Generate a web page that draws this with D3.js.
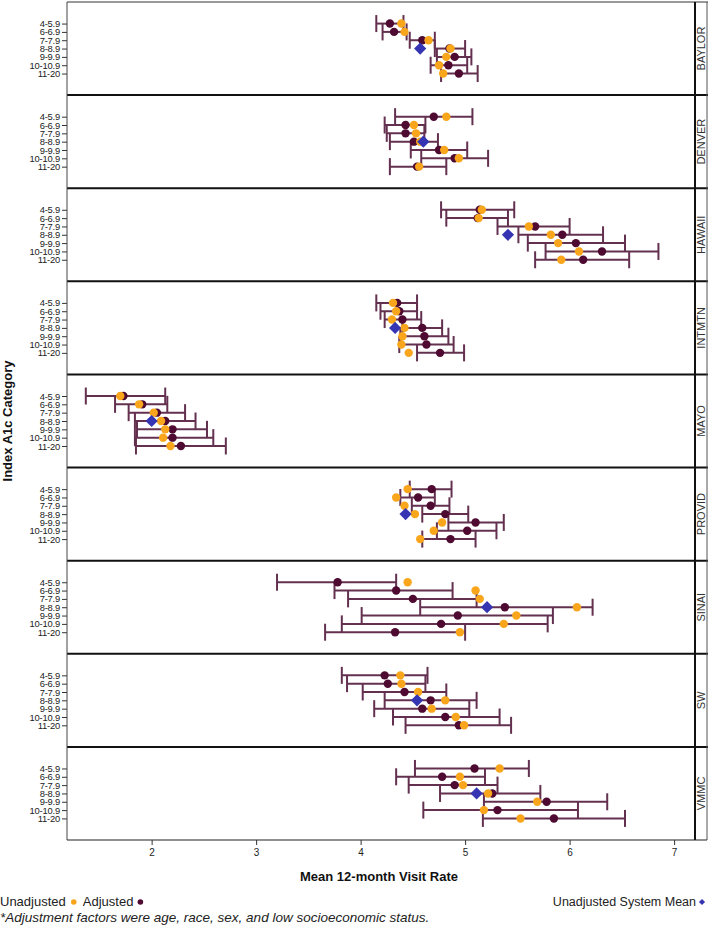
<!DOCTYPE html>
<html><head><meta charset="utf-8">
<script src="https://cdn.jsdelivr.net/npm/d3@7"></script>
<style>
body{margin:0;background:#fff;}
svg{display:block;font-family:"Liberation Sans",Arial,sans-serif;}
</style></head>
<body><svg id="chart" width="708" height="928"></svg>
<script>
const categories = ["4-5.9","6-6.9","7-7.9","8-8.9","9-9.9","10-10.9","11-20"];
const sites = ["BAYLOR","DENVER","HAWAII","INTMTN","MAYO","PROVID","SINAI","SW","VMMC"];
const xTicks = [2,3,4,5,6,7];
const unadjusted = [
 [4.39,4.42,4.65,4.86,4.82,4.75,4.79],
 [4.82,4.51,4.53,4.57,4.80,4.94,4.56],
 [5.16,5.13,5.61,5.82,5.89,6.09,5.92],
 [4.31,4.34,4.30,4.42,4.40,4.39,4.46],
 [1.70,1.88,2.02,2.09,2.13,2.11,2.18],
 [4.45,4.34,4.42,4.52,4.78,4.70,4.57],
 [4.45,5.10,5.14,6.07,5.49,5.37,4.95],
 [4.38,4.39,4.55,4.81,4.68,4.91,4.99],
 [5.33,4.95,4.98,5.22,5.69,5.18,5.53]
];
const adjusted = [
 [4.28,4.32,4.59,4.85,4.90,4.84,4.94],
 [4.70,4.43,4.43,4.51,4.75,4.90,4.54],
 [5.14,5.12,5.67,5.93,6.06,6.31,6.13],
 [4.35,4.37,4.40,4.59,4.61,4.63,4.76],
 [1.73,1.91,2.05,2.13,2.20,2.20,2.28],
 [4.68,4.55,4.67,4.81,5.10,5.02,4.86],
 [3.78,4.34,4.50,5.38,4.93,4.77,4.33],
 [4.23,4.26,4.42,4.67,4.59,4.81,4.94],
 [5.09,4.78,4.90,5.26,5.78,5.31,5.85]
];
const lowerCI = [
 [4.15,4.21,4.47,4.71,4.73,4.67,4.77],
 [4.33,4.23,4.25,4.28,4.48,4.58,4.28],
 [4.77,4.82,5.31,5.51,5.60,5.77,5.67],
 [4.15,4.19,4.23,4.40,4.38,4.37,4.54],
 [1.37,1.65,1.78,1.84,1.86,1.84,1.85],
 [4.47,4.38,4.49,4.59,4.84,4.73,4.59],
 [3.20,3.75,3.88,4.57,4.01,3.82,3.66],
 [3.82,3.87,4.02,4.23,4.13,4.31,4.43],
 [4.52,4.34,4.46,4.76,5.18,4.60,5.17]
];
const upperCI = [
 [4.41,4.44,4.71,5.00,5.06,5.02,5.12],
 [5.07,4.62,4.61,4.74,5.02,5.22,4.82],
 [5.47,5.41,6.00,6.32,6.53,6.85,6.57],
 [4.54,4.54,4.58,4.78,4.84,4.89,4.99],
 [2.13,2.15,2.32,2.42,2.53,2.59,2.71],
 [4.87,4.71,4.85,5.03,5.37,5.30,5.10],
 [4.34,4.88,5.11,6.22,5.84,5.79,5.00],
 [4.64,4.62,4.82,5.11,5.04,5.33,5.44],
 [5.61,5.19,5.31,5.72,6.36,6.08,6.53]
];
const systemMean = [4.57,4.60,5.41,4.33,2.00,4.43,5.21,4.54,5.11];
const systemMeanRow = "8-8.9";

const C_UNADJ = "#f9a61c", C_ADJ = "#4e0a31", C_BAR = "#63304f", C_MEAN = "#3535b3";
const svg = d3.select("#chart");
const L = 67, R = 695, SR = 707, T = 2, B = 840;
const panelH = (B - T) / sites.length;
const x = d3.scaleLinear().domain([1.19, 7.2]).range([L, R]);
const py = d3.scaleBand().domain(sites).range([T, B]);
const y = d3.scalePoint().domain(categories).range([0, panelH]).padding(2.59);

sites.forEach((s, i) => {
  const g = svg.append("g").attr("transform", `translate(0,${py(s)})`);
  const ax = g.append("g").attr("transform", `translate(${L},0)`)
    .call(d3.axisLeft(y).tickSize(5).tickPadding(2));
  ax.select(".domain").remove();
  ax.selectAll("line").attr("stroke", "#333");
  ax.selectAll("text").attr("font-family", "'Liberation Sans Narrow','Arial Narrow',sans-serif")
    .attr("font-size", 9.4).attr("fill", "#222").attr("letter-spacing", "-0.2");
  const rows = categories.map((c, j) => ({c, u: unadjusted[i][j], a: adjusted[i][j], lo: lowerCI[i][j], hi: upperCI[i][j]}));
  const bars = g.append("g").attr("stroke", C_BAR).attr("stroke-width", 2).attr("fill", "none");
  rows.forEach(r => {
    const yy = y(r.c);
    bars.append("line").attr("x1", x(r.lo)).attr("x2", x(r.hi)).attr("y1", yy).attr("y2", yy);
    bars.append("line").attr("x1", x(r.lo)).attr("x2", x(r.lo)).attr("y1", yy - 8.5).attr("y2", yy + 8.5);
    bars.append("line").attr("x1", x(r.hi)).attr("x2", x(r.hi)).attr("y1", yy - 8.5).attr("y2", yy + 8.5);
  });
  g.append("g").selectAll("circle").data(rows).join("circle")
    .attr("cx", d => x(d.a)).attr("cy", d => y(d.c)).attr("r", 4.2).attr("fill", C_ADJ);
  g.append("g").selectAll("circle").data(rows).join("circle")
    .attr("cx", d => x(d.u)).attr("cy", d => y(d.c)).attr("r", 4.2).attr("fill", C_UNADJ);
  g.append("path").attr("d", d3.symbol(d3.symbolDiamond2, 95)())
    .attr("transform", `translate(${x(systemMean[i])},${y(systemMeanRow)})`)
    .attr("fill", C_MEAN);
  g.append("text").attr("transform", `translate(${(R + SR) / 2 + 4},${panelH / 2}) rotate(-90)`)
    .attr("text-anchor", "middle").attr("font-size", 11).attr("fill", "#333").text(s);
  if (i > 0) g.append("line").attr("x1", L).attr("x2", SR + 1).attr("y1", 0).attr("y2", 0)
    .attr("stroke", "#111").attr("stroke-width", 2);
});

svg.append("line").attr("x1", L).attr("x2", SR + 1).attr("y1", T).attr("y2", T).attr("stroke", "#777").attr("stroke-width", 1.5);
svg.append("line").attr("x1", L).attr("x2", L).attr("y1", T).attr("y2", B).attr("stroke", "#444").attr("stroke-width", 1);
svg.append("line").attr("x1", R).attr("x2", R).attr("y1", T).attr("y2", B).attr("stroke", "#111").attr("stroke-width", 2);
svg.append("line").attr("x1", SR).attr("x2", SR).attr("y1", T).attr("y2", B).attr("stroke", "#555").attr("stroke-width", 1);
svg.append("line").attr("x1", L).attr("x2", SR).attr("y1", B).attr("y2", B).attr("stroke", "#222").attr("stroke-width", 1.2);

const xa = svg.append("g").attr("transform", `translate(0,${B})`)
  .call(d3.axisBottom(x).tickValues(xTicks).tickFormat(d3.format("d")).tickSize(5).tickPadding(4));
xa.select(".domain").remove();
xa.selectAll("line").attr("stroke", "#333");
xa.selectAll("text").attr("font-family", "'Liberation Sans Narrow','Arial Narrow',sans-serif").attr("font-size", 10).attr("fill", "#222");

svg.append("text").attr("x", (L + R) / 2 - 2).attr("y", 881).attr("text-anchor", "middle")
  .attr("font-size", 13).attr("font-weight", "bold").attr("fill", "#111").text("Mean 12-month Visit Rate");
svg.append("text").attr("transform", `translate(12,${(T + B) / 2}) rotate(-90)`).attr("text-anchor", "middle")
  .attr("font-size", 13).attr("font-weight", "bold").attr("fill", "#111").text("Index A1c Category");

const lg = svg.append("g").attr("font-size", 13).attr("fill", "#222");
const t1 = lg.append("text").attr("x", 0).attr("y", 906).text("Unadjusted");
const w1 = t1.node().getComputedTextLength();
lg.append("circle").attr("cx", w1 + 8).attr("cy", 902).attr("r", 2.8).attr("fill", C_UNADJ);
const t2 = lg.append("text").attr("x", w1 + 17).attr("y", 906).text("Adjusted");
const w2 = t2.node().getComputedTextLength();
lg.append("circle").attr("cx", w1 + 17 + w2 + 7).attr("cy", 902).attr("r", 2.8).attr("fill", C_ADJ);
lg.append("text").attr("x", 696).attr("y", 906).attr("text-anchor", "end").attr("font-size", 12.5).text("Unadjusted System Mean");
lg.append("path").attr("d", d3.symbol(d3.symbolDiamond2, 24)()).attr("transform", "translate(702,902)").attr("fill", C_MEAN);
lg.append("text").attr("x", 0).attr("y", 922).attr("font-style", "italic").attr("font-size", 13.5)
  .text("*Adjustment factors were age, race, sex, and low socioeconomic status.");
</script></body></html>
